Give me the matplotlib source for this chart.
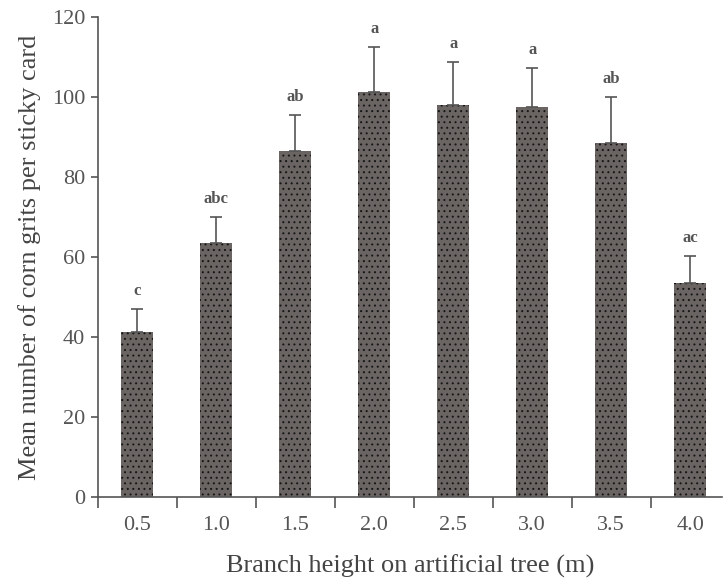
import matplotlib.pyplot as plt
import numpy as np

heights = ["0.5", "1.0", "1.5", "2.0", "2.5", "3.0", "3.5", "4.0"]
means = [41.2, 63.5, 86.5, 101.3, 98.0, 97.5, 88.5, 53.5]
errors = [5.8, 6.5, 9.0, 11.2, 10.8, 9.8, 11.5, 6.7]
letters = ["c", "abc", "ab", "a", "a", "a", "ab", "ac"]

plt.rcParams["font.family"] = ["Liberation Serif", "DejaVu Serif"]
plt.rcParams["hatch.linewidth"] = 0.7

gray = "#555555"
bar_color = "#6a6563"

fig = plt.figure(figsize=(7.24, 5.88), dpi=100)
ax = fig.add_axes([0.135, 0.155, 0.862, 0.816])

x = np.arange(len(heights))
ax.bar(x, means, width=0.4, color=bar_color, edgecolor="#151515",
       hatch="...", linewidth=0)
ax.errorbar(x, means, yerr=[np.zeros(len(errors)), errors], fmt="none",
            ecolor=gray, elinewidth=1.2, capsize=4, capthick=1.2)

for xi, m, e, lab in zip(x, means, errors, letters):
    ax.text(xi, m + e + 2.5, lab, ha="center", va="bottom", fontsize=12,
            fontweight="bold", color=gray)

ax.set_xlim(-0.5, 7.4)
ax.set_ylim(0, 120)
ax.set_yticks(np.arange(0, 121, 20))
ax.tick_params(axis="y", direction="out", length=5, width=1.2, colors=gray,
               labelsize=16, pad=4)

# ticks between bars, labels under bars
ax.set_xticks(np.arange(-0.5, 7.5, 1.0))
ax.set_xticklabels([])
ax.tick_params(axis="x", which="major", direction="out", length=8, width=1.2,
               colors=gray)
ax.set_xticks(x, minor=True)
ax.set_xticklabels(heights, minor=True)
ax.tick_params(axis="x", which="minor", length=0, labelsize=16, pad=14,
               colors=gray)

for side in ["top", "right"]:
    ax.spines[side].set_visible(False)
for side in ["left", "bottom"]:
    ax.spines[side].set_color(gray)
    ax.spines[side].set_linewidth(1.2)

ax.set_ylabel("Mean number of corn grits per sticky card", fontsize=19,
              color="#444444", labelpad=8)
ax.set_xlabel("Branch height on artificial tree (m)", fontsize=19,
              color="#444444", labelpad=14)

fig.savefig("out.png", dpi=100)
